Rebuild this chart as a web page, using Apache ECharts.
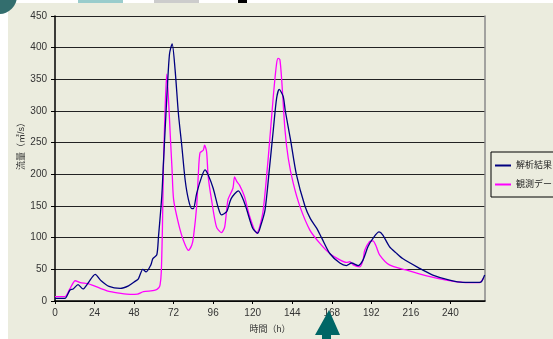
<!DOCTYPE html>
<html><head><meta charset="utf-8">
<script src="https://cdn.jsdelivr.net/npm/echarts@6/dist/echarts.min.js"></script>
<style>html,body{margin:0;padding:0;background:#fff}#c{width:553px;height:339px}</style>
</head><body><div id="c"></div>
<script>
const seriesNames = ['解析結果', '観測データ'];
const xTicks = [0, 24, 48, 72, 96, 120, 144, 168, 192, 216, 240];
const yTicks = [0, 50, 100, 150, 200, 250, 300, 350, 400, 450];

const calcHours = [0,6,9,11,14,17,20,24.4,28,32.8,39.6,44.6,48.6,50.6,53.3,55.3,58.2,59.4,61.8,62.8,64.8,65.8,67.9,69.5,71.1,72.9,74.9,77,79,81,83,84,86,89,91,93,96,99,101,104.2,107,111.3,114.3,116.4,120,123,125,127.5,130,132.5,134.5,136.1,138.5,139.8,143,146.5,151.7,155,158.8,161.8,166.8,172.9,176.9,180,184,187,190,193,196.7,199,203,207,211,221,229.3,239.5,247.6,257.7,259,260.8];
const calcValues = [4,4,17,19,26,19,28,42,32,23,20,24,31,35,50,46,57,67,73,101,165,217,323,390,406,365,296,244,191,160,146,146,170,196,207,199,178,148,136,141,162,174,160,144,115,107,120,144,205,270,320,334,323,300,254,200,150,130,115,100,75,60,56,60,56,65,86,99,109,104,86,76,67,52,41,33,29.5,29.5,31,41];

const obsHours = [0,6,9,12.3,15.3,20.4,27.5,33.5,40,45.6,50,53.7,60.8,63,63.8,64.5,65.2,65.8,66.8,67.8,68.8,70,71,72,74.9,77.9,81,83,84,86,87,88,90,90.8,92,93,95,98,101,103,105,108,109,110.5,112,115,118,122.5,124,126.4,129.5,132.5,134.5,135.5,136.5,137.6,139.6,141.6,144.6,148.7,154.7,160.8,166.8,172.9,176.9,179,181,185,187,188,191,193,195,197,203,213,225,237.5,247.6,257.7,260];
const obsValues = [7,7,19,32,29,27,20,14.7,12,10.6,11,14.7,17,21,26,45,115,210,300,358,323,260,210,160,123,96,80,88,100,150,200,234,238,246,236,196,160,117,108,117,160,178,196,188,183,165,135,107,115,144,228,323,375,383,381,349,270,225,186,149,112,91,75,65,61,62,57,54,65,80,94,95,86,73,57,49,40,33,29.5,29,36];

const pairs = (hs, vs) => hs.map((h, i) => [h, vs[i]]);
const FONT = '"Liberation Sans", "Noto Sans CJK JP", sans-serif';

const chart = echarts.init(document.getElementById('c'));
chart.setOption({
  backgroundColor: '#ffffff',
  animation: false,
  graphic: [
    { type: 'rect', z: -10, shape: { x: 8, y: 3, width: 560, height: 340 }, style: { fill: '#ebecde' } },
    { type: 'circle', z: -5, shape: { cx: -1, cy: -4, r: 18 }, style: { fill: '#336e6e' } },
    { type: 'rect', shape: { x: 78, y: 0, width: 45, height: 3 }, style: { fill: '#99cccc' } },
    { type: 'rect', shape: { x: 154, y: 0, width: 45, height: 3 }, style: { fill: '#cccccc' } },
    { type: 'rect', shape: { x: 238, y: 0, width: 9, height: 3 }, style: { fill: '#000000' } },
    { type: 'text', x: 22, y: 144, rotation: Math.PI / 2, style: { text: '流量（㎥/s）', font: '9px ' + FONT, fill: '#333', align: 'center', verticalAlign: 'middle' } },
    { type: 'polygon', z: 100, shape: { points: [[329, 310], [315, 335], [322, 335], [322, 339], [331, 339], [331, 335], [340, 335]] }, style: { fill: '#006666' } }
  ],
  grid: { left: 55, right: 68, top: 16, bottom: 38 },
  legend: {
    orient: 'vertical', left: 491, top: 152,
    padding: [9, 40, 8, 4], itemGap: 10,
    borderColor: '#000', borderWidth: 1,
    itemWidth: 16, itemHeight: 2, icon: 'rect',
    textStyle: { fontSize: 9, color: '#222', fontFamily: FONT },
    data: seriesNames
  },
  xAxis: {
    type: 'value', min: 0, max: 261, interval: 24,
    name: '時間（h）', nameLocation: 'middle', nameGap: 24,
    nameTextStyle: { fontSize: 9, color: '#333', fontFamily: FONT },
    axisLine: { lineStyle: { color: '#000', width: 1.5 } },
    axisTick: { length: 3, lineStyle: { color: '#000' } },
    axisLabel: { fontSize: 10, color: '#333', fontFamily: FONT, margin: 7, showMaxLabel: false,
      formatter: v => xTicks.indexOf(v) >= 0 ? String(v) : '' },
    splitLine: { show: false }
  },
  yAxis: [{
    type: 'value', min: 0, max: 450, interval: 50,
    axisLine: { show: true, lineStyle: { color: '#000', width: 1.5 } },
    axisTick: { show: true, length: 4, lineStyle: { color: '#000' } },
    axisLabel: { fontSize: 10, color: '#333', fontFamily: FONT, margin: 8,
      formatter: v => yTicks.indexOf(v) >= 0 ? String(v) : '' },
    splitLine: { show: true, lineStyle: { color: '#222', width: 1 } }
  }, {
    type: 'value', min: 0, max: 450, interval: 50, position: 'right',
    axisLine: { show: true, lineStyle: { color: '#8a8a8a', width: 1.5 } },
    axisTick: { show: false }, axisLabel: { show: false }, splitLine: { show: false }
  }],
  series: [
    { name: seriesNames[0], type: 'line', data: pairs(calcHours, calcValues), showSymbol: false, smooth: 0.25,
      lineStyle: { color: '#000080', width: 1.3 }, itemStyle: { color: '#000080' }, z: 3 },
    { name: seriesNames[1], type: 'line', data: pairs(obsHours, obsValues), showSymbol: false, smooth: 0.25,
      lineStyle: { color: '#ff00ff', width: 1.3 }, itemStyle: { color: '#ff00ff' }, z: 2 }
  ]
});
</script></body></html>
